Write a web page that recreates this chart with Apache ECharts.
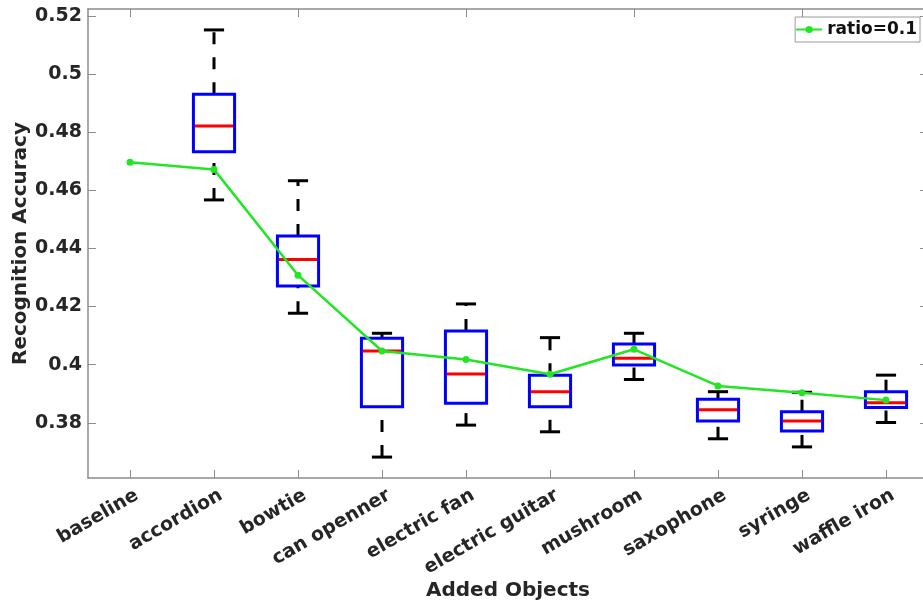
<!DOCTYPE html>
<html>
<head>
<meta charset="utf-8">
<title>Recognition Accuracy vs Added Objects</title>
<script src="https://cdn.jsdelivr.net/npm/echarts@6/dist/echarts.min.js"></script>
<style>
  html, body { margin: 0; padding: 0; background: #ffffff; }
  #chart { width: 923px; height: 605px; }
</style>
</head>
<body>
<div id="chart"></div>
<script>
// Categories along the x axis
const categories = ['baseline', 'accordion', 'bowtie', 'can openner', 'electric fan',
  'electric guitar', 'mushroom', 'saxophone', 'syringe', 'waffle iron'];

// Box statistics per category (baseline has no box)
const whiskerLow  = [null, 0.4567, 0.4177, 0.3682, 0.3792, 0.3769, 0.3949, 0.3745, 0.3717, 0.3801];
const quartile1   = [null, 0.4733, 0.4271, 0.3855, 0.3867, 0.3855, 0.3999, 0.3806, 0.3772, 0.3853];
const medians     = [null, 0.4821, 0.4362, 0.4047, 0.3968, 0.3907, 0.4022, 0.3845, 0.3806, 0.3869];
const quartile3   = [null, 0.4931, 0.4443, 0.4091, 0.4116, 0.3964, 0.4071, 0.3881, 0.3838, 0.3907];
const whiskerHigh = [null, 0.5152, 0.4633, 0.4108, 0.4209, 0.4093, 0.4108, 0.3907, 0.3905, 0.3964];

// Accuracy curve for ratio = 0.1
const ratio01 = [0.4697, 0.4672, 0.4308, 0.4047, 0.4018, 0.3967, 0.4053, 0.3927, 0.3903, 0.3878];

// Y axis tick values
const yTicks = [0.38, 0.40, 0.42, 0.44, 0.46, 0.48, 0.50, 0.52];
const yMin = 0.361;
const yMax = 0.5224;

const FONT = 'DejaVu Sans';
const AXIS_COLOR = '#8c8c8c';
const TEXT_COLOR = '#262626';

const boxData = [];
categories.forEach(function (c, i) {
  if (medians[i] != null) {
    boxData.push([i, whiskerLow[i], quartile1[i], medians[i], quartile3[i], whiskerHigh[i]]);
  }
});

function renderBox(params, api) {
  const idx = api.value(0);
  const low = api.coord([idx, api.value(1)]);
  const q1 = api.coord([idx, api.value(2)]);
  const med = api.coord([idx, api.value(3)]);
  const q3 = api.coord([idx, api.value(4)]);
  const high = api.coord([idx, api.value(5)]);
  const band = api.size([1, 0])[0];
  const half = band * 0.245;
  const capHalf = band * 0.12;
  const x = med[0];
  const whiskerStyle = { stroke: '#000000', lineWidth: 3, lineDash: [12, 13], fill: null };
  const capStyle = { stroke: '#000000', lineWidth: 3, fill: null };
  return {
    type: 'group',
    children: [
      { type: 'line', shape: { x1: x, y1: low[1], x2: x, y2: q1[1] }, style: whiskerStyle },
      { type: 'line', shape: { x1: x, y1: q3[1], x2: x, y2: high[1] }, style: whiskerStyle },
      { type: 'line', shape: { x1: x - capHalf, y1: low[1], x2: x + capHalf, y2: low[1] }, style: capStyle },
      { type: 'line', shape: { x1: x - capHalf, y1: high[1], x2: x + capHalf, y2: high[1] }, style: capStyle },
      { type: 'rect', shape: { x: x - half, y: q3[1], width: half * 2, height: q1[1] - q3[1] },
        style: { stroke: '#0000ff', lineWidth: 3, fill: null } },
      { type: 'line', shape: { x1: x - half + 1.5, y1: med[1], x2: x + half - 1.5, y2: med[1] },
        style: { stroke: '#ff0000', lineWidth: 3, fill: null } }
    ]
  };
}

const chart = echarts.init(document.getElementById('chart'), null, { renderer: 'canvas' });

chart.setOption({
  backgroundColor: '#ffffff',
  animation: false,
  grid: { left: 88, right: -5, top: 9, bottom: 127, containLabel: false, outerBoundsMode: 'none' },
  legend: {
    data: ['ratio=0.1'],
    right: 3,
    top: 17,
    orient: 'horizontal',
    backgroundColor: '#ffffff',
    borderColor: '#9a9a9a',
    borderWidth: 1,
    borderRadius: 0,
    padding: [4, 3, 4, 0],
    itemWidth: 26,
    itemHeight: 9,
    textStyle: { fontFamily: FONT, fontSize: 17, fontWeight: 'bold', color: '#111111' }
  },
  xAxis: [
    {
      type: 'category',
      data: categories,
      boundaryGap: true,
      position: 'bottom',
      name: 'Added Objects',
      nameLocation: 'middle',
      nameGap: 103,
      nameMoveOverlap: false,
      nameTextStyle: { fontFamily: FONT, fontSize: 20, fontWeight: 'bold', color: TEXT_COLOR },
      axisLine: { show: true, lineStyle: { color: AXIS_COLOR, width: 1.5 } },
      axisTick: { show: true, inside: true, length: 8, alignWithLabel: true, lineStyle: { color: AXIS_COLOR, width: 1 } },
      axisLabel: {
        rotate: 30, margin: 20, padding: [0, -8, 0, 0],
        fontFamily: FONT, fontSize: 19, fontWeight: 'bold', color: TEXT_COLOR, interval: 0
      },
      splitLine: { show: false }
    },
    {
      type: 'category',
      data: categories,
      boundaryGap: true,
      position: 'top',
      axisLine: { show: true, lineStyle: { color: AXIS_COLOR, width: 1.5 } },
      axisTick: { show: true, inside: true, length: 8, alignWithLabel: true, lineStyle: { color: AXIS_COLOR, width: 1 } },
      axisLabel: { show: false },
      splitLine: { show: false }
    }
  ],
  yAxis: [
    {
      type: 'value',
      min: yMin,
      max: yMax,
      position: 'left',
      name: 'Recognition Accuracy',
      nameLocation: 'middle',
      nameGap: 57,
      nameMoveOverlap: false,
      nameTextStyle: { fontFamily: FONT, fontSize: 20, fontWeight: 'bold', color: TEXT_COLOR },
      axisLine: { show: true, lineStyle: { color: AXIS_COLOR, width: 1.5 } },
      axisTick: { show: true, inside: true, length: 8, customValues: yTicks, lineStyle: { color: AXIS_COLOR, width: 1 } },
      axisLabel: {
        customValues: yTicks,
        margin: 6,
        fontFamily: FONT, fontSize: 19, fontWeight: 'bold', color: TEXT_COLOR,
        formatter: function (v) { return String(Number(v.toFixed(2))); }
      },
      splitLine: { show: false }
    },
    {
      type: 'value',
      min: yMin,
      max: yMax,
      position: 'right',
      axisLine: { show: true, lineStyle: { color: AXIS_COLOR, width: 1.5 } },
      axisTick: { show: true, inside: true, length: 8, customValues: yTicks, lineStyle: { color: AXIS_COLOR, width: 1 } },
      axisLabel: { show: false },
      splitLine: { show: false }
    }
  ],
  series: [
    {
      name: 'boxes',
      type: 'custom',
      xAxisIndex: 0,
      yAxisIndex: 0,
      renderItem: renderBox,
      encode: { x: 0, y: [1, 2, 3, 4, 5] },
      data: boxData,
      z: 2,
      silent: true
    },
    {
      name: 'ratio=0.1',
      type: 'line',
      xAxisIndex: 0,
      yAxisIndex: 0,
      data: ratio01,
      symbol: 'circle',
      symbolSize: 7,
      lineStyle: { color: '#22e622', width: 2.5 },
      itemStyle: { color: '#22e622' },
      z: 5
    }
  ]
});
</script>
</body>
</html>
